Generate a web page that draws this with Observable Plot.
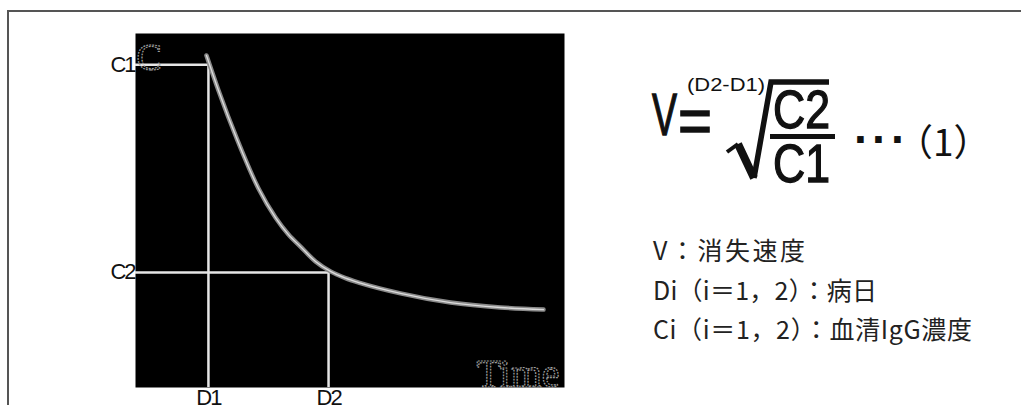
<!DOCTYPE html>
<html>
<head>
<meta charset="utf-8">
<script src="https://cdn.jsdelivr.net/npm/d3@7"></script>
<script src="https://cdn.jsdelivr.net/npm/@observablehq/plot@0.6"></script>
<style>
  html, body { margin: 0; padding: 0; background: #fff; }
  body { width: 1021px; height: 405px; overflow: hidden; position: relative; }
  #chart { position: absolute; left: 0; top: 0; }
  #frame { position: absolute; left: 7px; top: 10px; width: 1100px; height: 500px;
           border-left: 2px solid #555; border-top: 2px solid #555; pointer-events: none; }
  #formula { position: absolute; left: 0; top: 0; pointer-events: none; }
</style>
</head>
<body>
<div id="chart"></div>
<svg id="formula" width="1021" height="405" xmlns="http://www.w3.org/2000/svg">
  <g font-family="'Liberation Sans', Arial, sans-serif" fill="#111" stroke="#111" stroke-width="1.4">
    <text x="652" y="135" font-size="60" textLength="25" lengthAdjust="spacingAndGlyphs">V</text>
    <text x="678" y="143" font-size="64" textLength="34" lengthAdjust="spacingAndGlyphs">=</text>
    <text x="773" y="128" font-size="54" textLength="57" lengthAdjust="spacingAndGlyphs">C2</text>
    <text x="773" y="182" font-size="54" textLength="57" lengthAdjust="spacingAndGlyphs">C1</text>
  </g>
  <g font-family="'Liberation Sans', Arial, sans-serif" fill="#111">
    <text x="687" y="91" font-size="19" textLength="78" lengthAdjust="spacingAndGlyphs">(D2-D1)</text>
    <text x="854 872 891" y="155" font-size="46" font-weight="bold">···</text>
    <text x="896" y="156" font-size="37" font-family="'Noto Sans CJK JP', sans-serif">（1）</text>
  </g>
  <g stroke="#111" fill="none" stroke-linejoin="miter">
    <polyline points="727,152 738,144" stroke-width="4"/>
    <polyline points="738,144 754,178" stroke-width="8"/>
    <polyline points="754,178 771,82 829,82" stroke-width="5.5"/>
    <line x1="770" y1="136.5" x2="835" y2="136.5" stroke-width="5"/>
  </g>
  <g font-family="'Noto Sans CJK JP', sans-serif" fill="#222" font-size="25">
    <text x="653" y="260" textLength="152">V：消失速度</text>
    <text x="653" y="300" textLength="224">Di（i＝1，2）：病日</text>
    <text x="653" y="339" textLength="319">Ci（i＝1，2）：血清IgG濃度</text>
  </g>
</svg>
<div id="frame"></div>
<script>
// Scale domains (arbitrary units: day index, concentration %)
const xDomain = [0, 100];
const yDomain = [0, 100];

// Decay curve of serum IgG concentration over disease days
const days = [16.55, 19.35, 23.78, 28.67, 32.63, 35.66, 38.46, 41.96, 45.45, 48.95, 52.45, 61.77, 73.43, 85.08, 95.1];
const igg  = [93.8, 83.9, 69.8, 56.2, 48.0, 43.2, 39.8, 35.6, 32.8, 30.9, 29.5, 26.6, 24.0, 22.6, 22.0];

// Marked measurement points
const dayMarks = [17.0, 45.0];
const dayLabels = ["D1", "D2"];
const concMarks = [91.2, 32.5];
const concLabels = ["C1", "C2"];

const curve = days.map((d, i) => ({day: d, igg: igg[i]}));
const marks = dayMarks.map((d, i) => ({day: d, conc: concMarks[i], dl: dayLabels[i], cl: concLabels[i]}));

const plot = Plot.plot({
  width: 1021,
  height: 405,
  marginLeft: 135,
  marginRight: 457,
  marginTop: 33,
  marginBottom: 18,
  style: {background: "transparent", overflow: "visible", fontFamily: "'Liberation Sans', Arial, sans-serif"},
  x: {domain: xDomain, axis: null},
  y: {domain: yDomain, axis: null},
  marks: [
    Plot.frame({fill: "#000", stroke: "none"}),
    Plot.ruleY(marks, {y: "conc", x1: () => xDomain[0], x2: "day", stroke: "#e6e6e6", strokeWidth: 2.5}),
    Plot.ruleX(marks, {x: "day", y1: () => yDomain[0], y2: "conc", stroke: "#e6e6e6", strokeWidth: 2.5}),
    Plot.line(curve, {x: "day", y: "igg", curve: "monotone-x", stroke: "#8a8a8a", strokeWidth: 4.5}),
    Plot.line(curve, {x: "day", y: "igg", curve: "monotone-x", stroke: "#dcdcdc", strokeWidth: 1.3}),
    Plot.text(["C"], {frameAnchor: "top-left", text: d => d, dx: 1, dy: 10, fontSize: 38,
      fontFamily: "'Liberation Serif', serif", fill: "none", stroke: "#a0a0a0", strokeWidth: 1.2, strokeDasharray: "1.8 1.2"}),
    Plot.text(["Time"], {frameAnchor: "bottom-right", text: d => d, dx: -5, dy: -1, fontSize: 40, lineAnchor: "bottom",
      fontFamily: "'Liberation Serif', serif", fill: "none", stroke: "#a0a0a0", strokeWidth: 1.2, strokeDasharray: "1.8 1.2"}),
    Plot.text(marks, {x: () => xDomain[0], y: "conc", text: "cl", textAnchor: "end", dx: -1, dy: 0, fontSize: 22, fill: "#111"}),
    Plot.text(marks, {x: "day", y: () => yDomain[0], text: "dl", dy: 10, lineAnchor: "middle", fontSize: 22, fill: "#111"})
  ]
});
document.getElementById("chart").appendChild(plot);
d3.select(plot).selectAll("text").filter(function() { return /^[CD][12]$/.test(this.textContent); })
  .style("letter-spacing", "-2px");
</script>
</body>
</html>
